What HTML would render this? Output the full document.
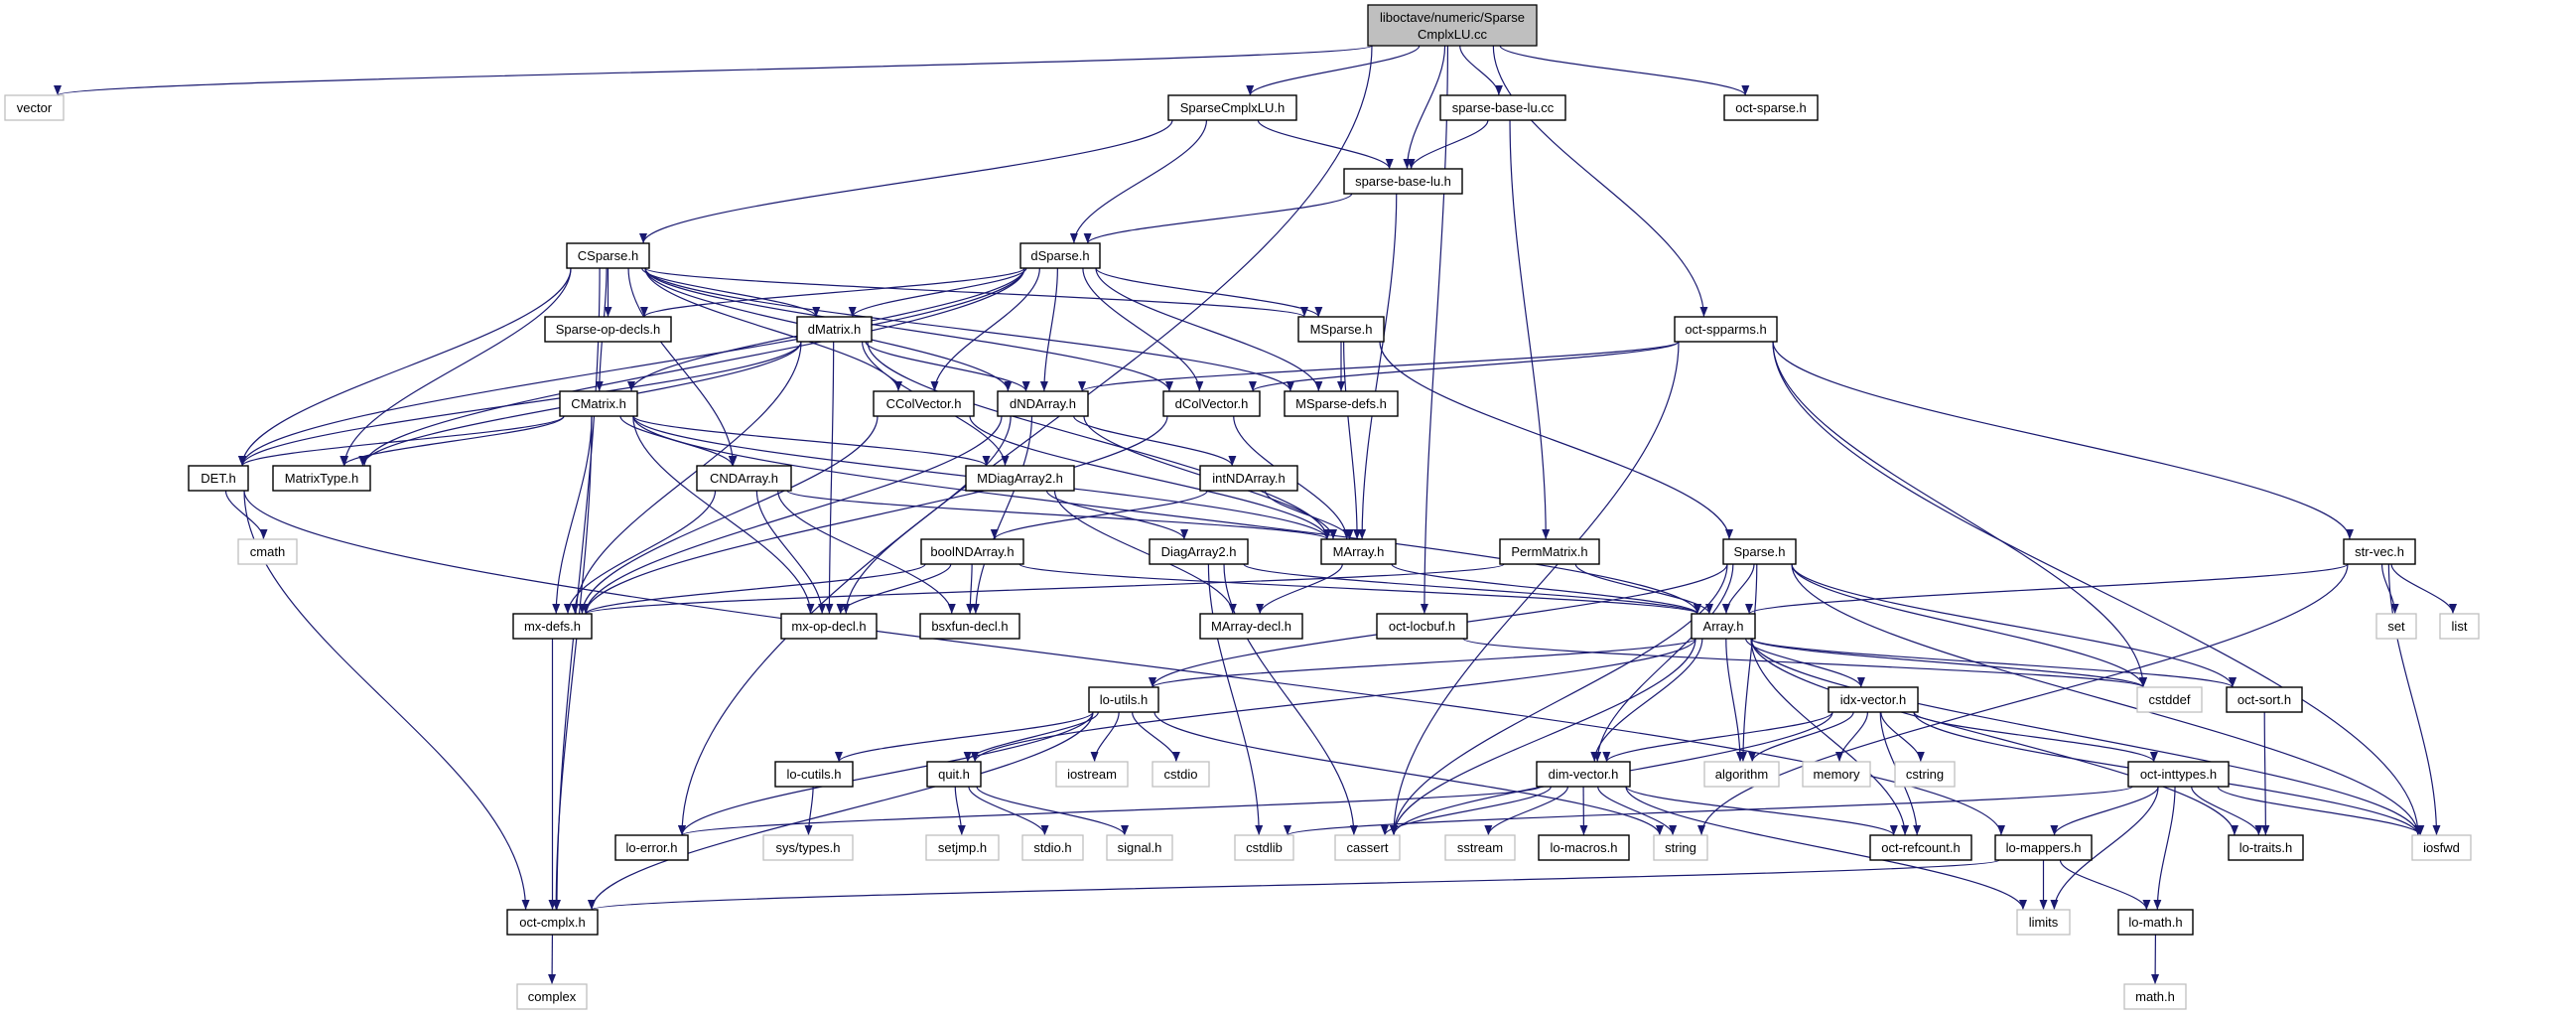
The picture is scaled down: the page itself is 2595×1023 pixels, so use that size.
<!DOCTYPE html>
<html><head><meta charset="utf-8"><style>
html,body{margin:0;padding:0;background:#fff;}
svg{display:block;}
text{font-family:"Liberation Sans",sans-serif;font-size:13px;fill:#000;}
</style></head><body>
<svg id="g" width="2595" height="1023" viewBox="0 0 2595 1023" xmlns="http://www.w3.org/2000/svg">
<defs><marker id="a" viewBox="0 0 10 10" refX="10" refY="5" markerWidth="10" markerHeight="10" markerUnits="userSpaceOnUse" orient="auto"><path d="M0,1 L10,5 L0,9 z" fill="#191970"/></marker></defs>
<g id="edges"></g>
<g id="nodes">
<rect x="1378" y="5" width="170" height="41" fill="#bfbfbf" stroke="#000" stroke-width="1.3"/><text x="1463" y="22" text-anchor="middle">liboctave/numeric/Sparse</text><text x="1463" y="39" text-anchor="middle">CmplxLU.cc</text>
</g>
</svg>
<script>
(function(){
var R=[0,96,170,245,319,394,469,543,618,692,767,841,916,991];
var N={
"vector":[5,64,1,1],"SparseCmplxLU.h":[1177,1306,1],"sparse-base-lu.cc":[1451,1577,1],"oct-sparse.h":[1737,1831,1],
"sparse-base-lu.h":[1354,1473,2],
"CSparse.h":[571,654,3],"dSparse.h":[1028,1108,3],
"Sparse-op-decls.h":[549,676,4],"dMatrix.h":[803,878,4],"MSparse.h":[1308,1394,4],"oct-spparms.h":[1687,1790,4],
"CMatrix.h":[564,642,5],"CColVector.h":[880,981,5],"dNDArray.h":[1005,1096,5],"dColVector.h":[1172,1269,5],"MSparse-defs.h":[1294,1408,5],
"DET.h":[190,250,6],"MatrixType.h":[275,373,6],"CNDArray.h":[702,797,6],"MDiagArray2.h":[973,1082,6],"intNDArray.h":[1209,1307,6],
"cmath":[240,299,7,1],"boolNDArray.h":[928,1031,7],"DiagArray2.h":[1158,1257,7],"MArray.h":[1331,1406,7],"PermMatrix.h":[1511,1611,7],"Sparse.h":[1736,1809,7],"str-vec.h":[2361,2433,7],
"mx-defs.h":[517,596,8],"mx-op-decl.h":[787,883,8],"bsxfun-decl.h":[927,1027,8],"MArray-decl.h":[1209,1312,8],"oct-locbuf.h":[1387,1478,8],"Array.h":[1704,1768,8],"set":[2394,2434,8,1],"list":[2458,2497,8,1],
"lo-utils.h":[1097,1167,9],"idx-vector.h":[1842,1932,9],"cstddef":[2153,2218,9,1],"oct-sort.h":[2243,2319,9],
"lo-cutils.h":[781,859,10],"quit.h":[934,988,10],"iostream":[1064,1136,10,1],"cstdio":[1161,1218,10,1],"dim-vector.h":[1548,1642,10],"algorithm":[1717,1792,10,1],"memory":[1816,1884,10,1],"cstring":[1909,1969,10,1],"oct-inttypes.h":[2144,2245,10],
"lo-error.h":[620,693,11],"sys/types.h":[769,859,11,1],"setjmp.h":[933,1006,11,1],"stdio.h":[1030,1091,11,1],"signal.h":[1115,1181,11,1],"cstdlib":[1244,1303,11,1],"cassert":[1345,1410,11,1],"sstream":[1456,1526,11,1],"lo-macros.h":[1550,1641,11],"string":[1666,1720,11,1],"oct-refcount.h":[1884,1986,11],"lo-mappers.h":[2010,2107,11],"lo-traits.h":[2245,2320,11],"iosfwd":[2430,2489,11,1],
"oct-cmplx.h":[511,602,12],"limits":[2032,2085,12,1],"lo-math.h":[2134,2209,12],
"complex":[521,591,13,1],"math.h":[2140,2202,13,1]
};
N["ROOT"]=[1378,1548,0];
var E={
"ROOT":["vector","lo-error.h","SparseCmplxLU.h","sparse-base-lu.h","sparse-base-lu.cc","oct-locbuf.h","oct-spparms.h","oct-sparse.h"],
"SparseCmplxLU.h":["CSparse.h","dSparse.h","sparse-base-lu.h"],
"sparse-base-lu.cc":["sparse-base-lu.h","PermMatrix.h"],
"sparse-base-lu.h":["dSparse.h","MArray.h"],
"CSparse.h":["Sparse-op-decls.h","dMatrix.h","CMatrix.h","DET.h","MatrixType.h","CNDArray.h","oct-cmplx.h","CColVector.h","dNDArray.h","dColVector.h","MSparse.h","MSparse-defs.h"],
"dSparse.h":["Sparse-op-decls.h","dMatrix.h","CMatrix.h","DET.h","MatrixType.h","CColVector.h","dNDArray.h","dColVector.h","MSparse.h","MSparse-defs.h"],
"dMatrix.h":["DET.h","MatrixType.h","dNDArray.h","MDiagArray2.h","mx-op-decl.h","MArray.h","mx-defs.h"],
"CMatrix.h":["DET.h","MatrixType.h","CNDArray.h","mx-defs.h","mx-op-decl.h","oct-cmplx.h","MArray.h","MDiagArray2.h","Array.h"],
"CColVector.h":["MArray.h","mx-defs.h"],
"dNDArray.h":["intNDArray.h","MArray.h","mx-defs.h","mx-op-decl.h","bsxfun-decl.h"],
"dColVector.h":["MArray.h","mx-defs.h"],
"MSparse.h":["MSparse-defs.h","MArray.h","Sparse.h"],
"oct-spparms.h":["str-vec.h","dNDArray.h","dColVector.h","cstddef","cassert","iosfwd"],
"DET.h":["cmath","oct-cmplx.h","lo-mappers.h"],
"CNDArray.h":["MArray.h","mx-defs.h","mx-op-decl.h","bsxfun-decl.h"],
"MDiagArray2.h":["DiagArray2.h","MArray-decl.h"],
"intNDArray.h":["boolNDArray.h","MArray.h"],
"boolNDArray.h":["mx-defs.h","mx-op-decl.h","bsxfun-decl.h","Array.h"],
"DiagArray2.h":["Array.h","cassert","cstdlib"],
"MArray.h":["MArray-decl.h","Array.h"],
"PermMatrix.h":["Array.h","mx-defs.h"],
"Sparse.h":["Array.h","cassert","cstddef","oct-sort.h","iosfwd","algorithm","dim-vector.h","lo-utils.h"],
"str-vec.h":["Array.h","set","list","iosfwd","string"],
"oct-locbuf.h":["cstddef"],
"mx-defs.h":["oct-cmplx.h"],
"Array.h":["lo-utils.h","idx-vector.h","dim-vector.h","cstddef","oct-sort.h","algorithm","cassert","lo-traits.h","iosfwd","oct-refcount.h","quit.h"],
"lo-utils.h":["lo-cutils.h","quit.h","iostream","cstdio","oct-cmplx.h","string","lo-error.h"],
"lo-cutils.h":["sys/types.h"],
"quit.h":["setjmp.h","stdio.h","signal.h"],
"idx-vector.h":["algorithm","memory","cstring","oct-inttypes.h","oct-refcount.h","iosfwd","dim-vector.h","cassert"],
"dim-vector.h":["cassert","sstream","string","lo-macros.h","oct-refcount.h","lo-error.h","limits"],
"oct-inttypes.h":["lo-mappers.h","limits","lo-math.h","lo-traits.h","iosfwd","cstdlib"],
"lo-mappers.h":["limits","lo-math.h","oct-cmplx.h"],
"lo-math.h":["math.h"],
"oct-sort.h":["lo-traits.h"],
"oct-cmplx.h":["complex"]
};
var ns="http://www.w3.org/2000/svg",g=document.getElementById("nodes"),eg=document.getElementById("edges");
function el(t,a,p){var e=document.createElementNS(ns,t);for(var k in a)e.setAttribute(k,a[k]);p.appendChild(e);return e;}
function yTop(n){return n[2]==0?5:R[n[2]];}
function yBot(n){return n[2]==0?46:R[n[2]]+25;}
for(var s in E){var S=N[s];E[s].forEach(function(t){var T=N[t];if(!T)return;
var sc=(S[0]+S[1])/2,tc=(T[0]+T[1])/2;
var sx=Math.max(S[0]+4,Math.min(S[1]-4,sc+(tc-sc)*0.15)),sy=yBot(S);
var tx=Math.max(T[0]+6,Math.min(T[1]-6,tc+(sc-tc)*0.08)),ty=yTop(T);
var dy=ty-sy;
var d="M"+sx+","+sy+" C"+sx+","+(sy+dy*0.35)+" "+tx+","+(ty-dy*0.35)+" "+tx+","+ty;
el("path",{d:d,fill:"none",stroke:"#191970","stroke-width":"1.2","marker-end":"url(#a)"},eg);});}
for(var k in N){if(k=="ROOT")continue;var n=N[k],y=R[n[2]];
el("rect",{x:n[0],y:y,width:n[1]-n[0],height:25,fill:"#fff",stroke:n[3]?"#bfbfbf":"#000","stroke-width":n[3]?"1.3":"1.4"},g);
var tt=el("text",{x:(n[0]+n[1])/2,y:y+17,"text-anchor":"middle"},g);tt.textContent=k;}
})();
</script>
</body></html>
